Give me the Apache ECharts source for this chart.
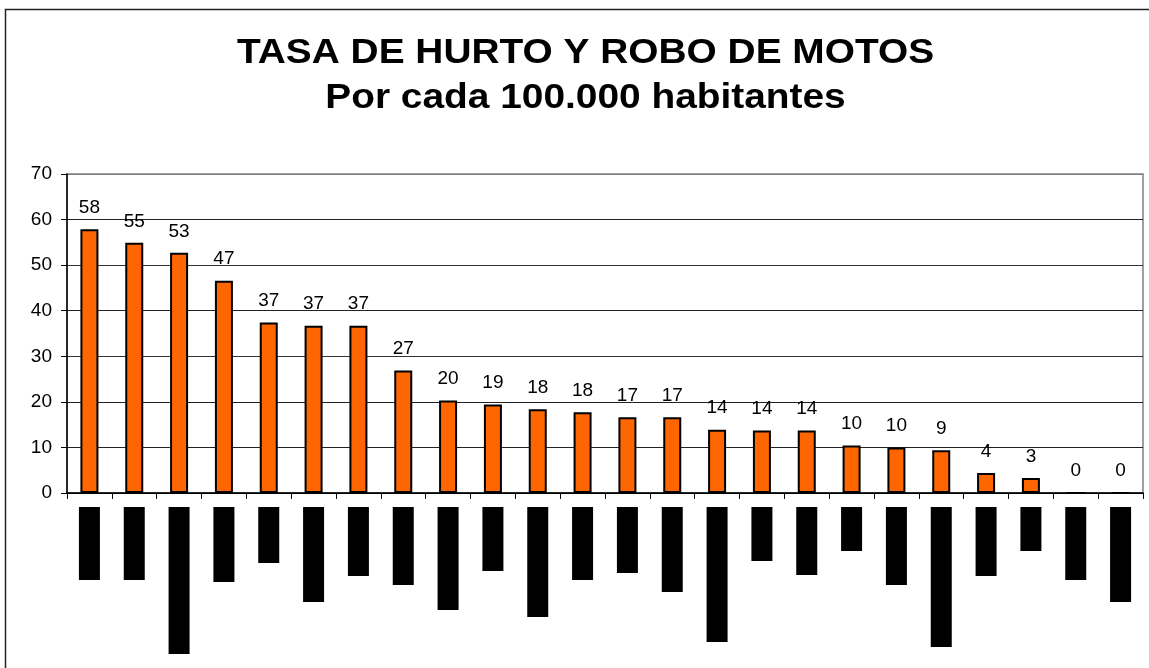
<!DOCTYPE html>
<html>
<head>
<meta charset="utf-8">
<script src="https://cdn.jsdelivr.net/npm/echarts@6/dist/echarts.min.js"></script>
<style>
html,body{margin:0;padding:0;background:#fff;}
#chart{width:1149px;height:668px;}
</style>
</head>
<body>
<div id="chart"></div>
<script>
const titleLine1 = 'TASA DE HURTO Y ROBO DE MOTOS';
const titleLine2 = 'Por cada 100.000 habitantes';
const categories = ['1','2','3','4','5','6','7','8','9','10','11','12','13','14','15','16','17','18','19','20','21','22','23','24'];
const rates = [57.9,54.9,52.7,46.6,37.4,36.7,36.7,26.9,20.3,19.4,18.4,17.7,16.6,16.6,13.9,13.7,13.7,10.4,10.0,9.4,4.4,3.3,0,0];
// lengths of the (obscured) category label blocks under the axis
const labelBlocks = [73,73,147,75,56,95,69,78,103,64,110,73,66,85,135,54,68,44,78,140,69,44,73,95];
const yTicks = [0,10,20,30,40,50,60,70];

const chart = echarts.init(document.getElementById('chart'), null, {renderer:'canvas'});
const font = 'Liberation Sans, Arial, sans-serif';
chart.setOption({
  animation:false,
  backgroundColor:'#fff',
  graphic:[
    {type:'rect', shape:{x:5.5,y:9.5,width:1300,height:800}, style:{fill:'none',stroke:'#222',lineWidth:1.5}, silent:true},
    {type:'text', x:585.5, y:53.5, scaleX:1.11, style:{text:titleLine1, x:0, y:0, align:'center', verticalAlign:'middle', font:'bold 35px '+font, fill:'#000'}},
    {type:'text', x:585.5, y:98, scaleX:1.11, style:{text:titleLine2, x:0, y:0, align:'center', verticalAlign:'middle', font:'bold 35px '+font, fill:'#000'}}
  ],
  grid:[
    {left:67, right:6, top:174, bottom:175, show:true, borderColor:'#808080', borderWidth:1.5},
    {left:67, right:6, top:507, bottom:0}
  ],
  xAxis:[
    {type:'category', gridIndex:0, data:categories, boundaryGap:true,
     axisLine:{lineStyle:{color:'#000',width:1.5}},
     axisTick:{show:true, length:6, inside:false, lineStyle:{color:'#000'}},
     axisLabel:{show:false}},
    {type:'category', gridIndex:1, data:categories, boundaryGap:true,
     axisLine:{show:false}, axisTick:{show:false}, axisLabel:{show:false}}
  ],
  yAxis:[
    {type:'value', gridIndex:0, min:0, max:70, interval:10,
     axisLine:{show:true, lineStyle:{color:'#000',width:1.5}},
     axisTick:{show:true, length:6, lineStyle:{color:'#000'}},
     axisLabel:{margin:15, fontSize:19, fontFamily:font, color:'#000',
       formatter:function(v){return yTicks.indexOf(v)>=0 ? String(v) : '';}},
     splitLine:{show:true, lineStyle:{color:['#000','#222','#222','#333','#222','#333','#222','#808080'], width:1}}},
    {type:'value', gridIndex:1, min:0, max:161, inverse:true, show:false}
  ],
  series:[
    {type:'bar', xAxisIndex:0, yAxisIndex:0, data:rates, barWidth:18,
     itemStyle:{color:'#FF6600', borderColor:'#000', borderWidth:2},
     label:{show:true, position:'top', distance:12, fontSize:19, fontFamily:font, color:'#000',
       formatter:function(p){return String(Math.round(p.value));}}},
    {type:'bar', xAxisIndex:1, yAxisIndex:1, data:labelBlocks, barWidth:21,
     itemStyle:{color:'#000'}, label:{show:false}}
  ]
});
</script>
</body>
</html>
